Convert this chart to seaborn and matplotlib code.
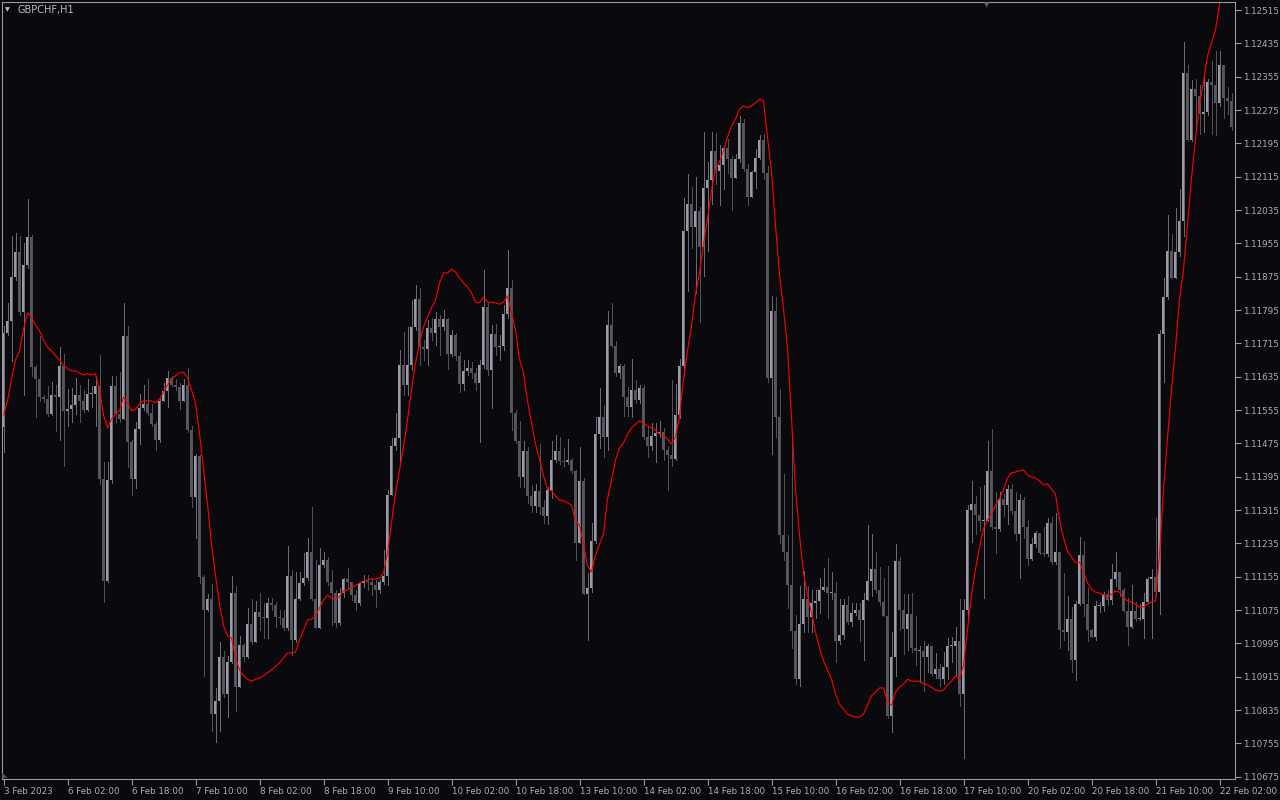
import numpy as np
import pandas as pd
import seaborn as sns
import matplotlib.pyplot as plt

# GBPCHF H1 candles (open = previous close)
first_open = 1.11514

closes = [
    1.11740, 1.11769, 1.11874, 1.11934, 1.11790, 1.11903, 1.11970, 1.11658, 1.11629, 1.11586,
    1.11581, 1.11545, 1.11591, 1.11586, 1.11661, 1.11553, 1.11557, 1.11567, 1.11591, 1.11577,
    1.11555, 1.11593, 1.11593, 1.11613, 1.11389, 1.11145, 1.11387, 1.11613, 1.11545, 1.11533,
    1.11733, 1.11478, 1.11389, 1.11509, 1.11560, 1.11569, 1.11548, 1.11521, 1.11483, 1.11577,
    1.11601, 1.11632, 1.11615, 1.11610, 1.11577, 1.11615, 1.11507, 1.11346, 1.11445, 1.11154,
    1.11075, 1.11101, 1.10825, 1.10857, 1.10962, 1.10873, 1.10950, 1.11116, 1.10890, 1.10991,
    1.10962, 1.11041, 1.10998, 1.11070, 1.11058, 1.11056, 1.11092, 1.11087, 1.11058, 1.11056,
    1.11032, 1.11157, 1.11003, 1.11101, 1.11140, 1.11152, 1.11214, 1.11101, 1.11032, 1.11183,
    1.11195, 1.11142, 1.11116, 1.11044, 1.11116, 1.11149, 1.11142, 1.11111, 1.11092, 1.11140,
    1.11145, 1.11142, 1.11135, 1.11123, 1.11142, 1.11157, 1.11351, 1.11469, 1.11488, 1.11663,
    1.11615, 1.11663, 1.11754, 1.11821, 1.11706, 1.11702, 1.11752, 1.11740, 1.11773, 1.11754,
    1.11773, 1.11689, 1.11735, 1.11685, 1.11617, 1.11649, 1.11656, 1.11644, 1.11620, 1.11663,
    1.11802, 1.11651, 1.11737, 1.11706, 1.11709, 1.11785, 1.11848, 1.11548, 1.11481, 1.11394,
    1.11457, 1.11349, 1.11325, 1.11361, 1.11322, 1.11301, 1.11363, 1.11435, 1.11457, 1.11433,
    1.11430, 1.11435, 1.11409, 1.11236, 1.11385, 1.11113, 1.11128, 1.11241, 1.11497, 1.11538,
    1.11490, 1.11759, 1.11709, 1.11644, 1.11661, 1.11586, 1.11562, 1.11603, 1.11579, 1.11608,
    1.11490, 1.11469, 1.11493, 1.11500, 1.11502, 1.11459, 1.11447, 1.11437, 1.11543, 1.11661,
    1.11985, 1.12049, 1.11994, 1.12033, 1.11946, 1.12088, 1.12107, 1.12177, 1.12129, 1.12143,
    1.12184, 1.12157, 1.12112, 1.12157, 1.12244, 1.12133, 1.12066, 1.12126, 1.12160, 1.12203,
    1.12124, 1.11632, 1.11793, 1.11538, 1.11255, 1.11214, 1.11135, 1.11025, 1.10909, 1.11041,
    1.11101, 1.11058, 1.11092, 1.11097, 1.11123, 1.11130, 1.11116, 1.11116, 1.11001, 1.11015,
    1.11087, 1.11046, 1.11068, 1.11075, 1.11051, 1.11099, 1.11145, 1.11173, 1.11123, 1.11094,
    1.11061, 1.10821, 1.10962, 1.11193, 1.11075, 1.11029, 1.11065, 1.10984, 1.10977, 1.10977,
    1.10962, 1.10989, 1.10921, 1.10933, 1.10909, 1.10938, 1.10989, 1.10989, 1.11001, 1.10873,
    1.11075, 1.11315, 1.11329, 1.11303, 1.11289, 1.11289, 1.11409, 1.11274, 1.11269, 1.11341,
    1.11327, 1.11365, 1.11313, 1.11257, 1.11339, 1.11274, 1.11197, 1.11233, 1.11260, 1.11212,
    1.11209, 1.11284, 1.11190, 1.11214, 1.11027, 1.11022, 1.11053, 1.10955, 1.11089, 1.11207,
    1.11089, 1.11027, 1.11010, 1.11085, 1.11085, 1.11113, 1.11099, 1.11149, 1.11166, 1.11123,
    1.11073, 1.11034, 1.11073, 1.11053, 1.11053, 1.11094, 1.11149, 1.11154, 1.11118, 1.11737,
    1.11826, 1.11937, 1.11872, 1.11934, 1.12009, 1.12364, 1.12203, 1.12325, 1.12309, 1.12265,
    1.12270, 1.12342, 1.12335, 1.12292, 1.12383, 1.12304, 1.12297, 1.12234,
]

highs = [
    1.11757, 1.11812, 1.11973, 1.11980, 1.11973, 1.11956, 1.12061, 1.11975, 1.11663, 1.11733,
    1.11591, 1.11613, 1.11622, 1.11615, 1.11706, 1.11689, 1.11605, 1.11608, 1.11632, 1.11615,
    1.11603, 1.11629, 1.11613, 1.11637, 1.11687, 1.11430, 1.11430, 1.11637, 1.11637, 1.11646,
    1.11812, 1.11757, 1.11483, 1.11526, 1.11593, 1.11615, 1.11629, 1.11569, 1.11526, 1.11581,
    1.11620, 1.11649, 1.11637, 1.11629, 1.11620, 1.11629, 1.11656, 1.11517, 1.11449, 1.11447,
    1.11159, 1.11113, 1.11137, 1.10888, 1.10998, 1.10977, 1.10965, 1.11157, 1.11133, 1.11013,
    1.10996, 1.11080, 1.11101, 1.11097, 1.11116, 1.11092, 1.11104, 1.11104, 1.11094, 1.11075,
    1.11075, 1.11229, 1.11171, 1.11166, 1.11166, 1.11212, 1.11248, 1.11322, 1.11195, 1.11224,
    1.11214, 1.11202, 1.11171, 1.11123, 1.11128, 1.11152, 1.11176, 1.11140, 1.11123, 1.11142,
    1.11159, 1.11159, 1.11152, 1.11147, 1.11147, 1.11219, 1.11363, 1.11488, 1.11548, 1.11699,
    1.11742, 1.11754, 1.11819, 1.11855, 1.11848, 1.11723, 1.11771, 1.11776, 1.11790, 1.11783,
    1.11795, 1.11776, 1.11747, 1.11740, 1.11694, 1.11675, 1.11675, 1.11670, 1.11656, 1.11675,
    1.11891, 1.11812, 1.11759, 1.11762, 1.11735, 1.11807, 1.11939, 1.11867, 1.11555, 1.11529,
    1.11481, 1.11466, 1.11375, 1.11378, 1.11473, 1.11339, 1.11370, 1.11481, 1.11495, 1.11490,
    1.11464, 1.11485, 1.11440, 1.11411, 1.11466, 1.11392, 1.11164, 1.11284, 1.11538, 1.11608,
    1.11567, 1.11793, 1.11812, 1.11721, 1.11666, 1.11666, 1.11610, 1.11677, 1.11627, 1.11615,
    1.11615, 1.11517, 1.11524, 1.11524, 1.11529, 1.11512, 1.11469, 1.11627, 1.11618, 1.11677,
    1.12064, 1.12121, 1.12090, 1.12114, 1.12042, 1.12222, 1.12150, 1.12222, 1.12220, 1.12191,
    1.12189, 1.12205, 1.12165, 1.12169, 1.12261, 1.12254, 1.12145, 1.12129, 1.12181, 1.12215,
    1.12217, 1.12141, 1.11829, 1.11826, 1.11605, 1.11401, 1.11255, 1.11493, 1.11063, 1.11133,
    1.11169, 1.11133, 1.11123, 1.11123, 1.11152, 1.11176, 1.11200, 1.11166, 1.11142, 1.11101,
    1.11101, 1.11109, 1.11092, 1.11092, 1.11092, 1.11116, 1.11279, 1.11257, 1.11214, 1.11178,
    1.11152, 1.11181, 1.11022, 1.11233, 1.11202, 1.11113, 1.11113, 1.11116, 1.11061, 1.10989,
    1.11001, 1.10993, 1.10974, 1.10972, 1.10945, 1.10974, 1.11008, 1.11010, 1.11034, 1.11101,
    1.11101, 1.11327, 1.11385, 1.11349, 1.11370, 1.11375, 1.11481, 1.11509, 1.11358, 1.11358,
    1.11353, 1.11375, 1.11378, 1.11358, 1.11353, 1.11346, 1.11291, 1.11248, 1.11265, 1.11260,
    1.11274, 1.11296, 1.11298, 1.11308, 1.11214, 1.11164, 1.11109, 1.11082, 1.11097, 1.11250,
    1.11241, 1.11128, 1.11029, 1.11097, 1.11094, 1.11118, 1.11123, 1.11185, 1.11214, 1.11166,
    1.11128, 1.11104, 1.11135, 1.11094, 1.11089, 1.11116, 1.11154, 1.11173, 1.11296, 1.11747,
    1.11872, 1.12023, 1.11977, 1.12040, 1.12085, 1.12438, 1.12383, 1.12347, 1.12349, 1.12335,
    1.12357, 1.12349, 1.12393, 1.12417, 1.12417, 1.12383, 1.12330, 1.12316,
]

lows = [
    1.11454, 1.11735, 1.11673, 1.11867, 1.11783, 1.11591, 1.11896, 1.11637, 1.11538, 1.11577,
    1.11574, 1.11541, 1.11543, 1.11505, 1.11483, 1.11421, 1.11517, 1.11526, 1.11545, 1.11526,
    1.11550, 1.11553, 1.11562, 1.11517, 1.11377, 1.11094, 1.11142, 1.11379, 1.11526, 1.11526,
    1.11533, 1.11418, 1.11351, 1.11368, 1.11473, 1.11555, 1.11543, 1.11517, 1.11459, 1.11478,
    1.11577, 1.11562, 1.11613, 1.11603, 1.11557, 1.11577, 1.11502, 1.11322, 1.11248, 1.11140,
    1.10917, 1.11073, 1.10785, 1.10758, 1.10785, 1.10866, 1.10818, 1.10948, 1.10833, 1.10893,
    1.10953, 1.10960, 1.10994, 1.11029, 1.11027, 1.11008, 1.11008, 1.11075, 1.11034, 1.11041,
    1.11027, 1.11027, 1.10967, 1.10998, 1.11099, 1.11135, 1.11147, 1.11099, 1.11032, 1.11032,
    1.11178, 1.11135, 1.11039, 1.11034, 1.11039, 1.11106, 1.11128, 1.11099, 1.11075, 1.11087,
    1.11130, 1.11123, 1.11111, 1.11082, 1.11116, 1.11137, 1.11135, 1.11351, 1.11459, 1.11430,
    1.11591, 1.11591, 1.11651, 1.11747, 1.11663, 1.11675, 1.11663, 1.11723, 1.11711, 1.11687,
    1.11747, 1.11653, 1.11685, 1.11675, 1.11598, 1.11603, 1.11639, 1.11632, 1.11603, 1.11478,
    1.11656, 1.11639, 1.11560, 1.11687, 1.11675, 1.11699, 1.11776, 1.11507, 1.11476, 1.11370,
    1.11370, 1.11332, 1.11310, 1.11310, 1.11305, 1.11284, 1.11281, 1.11344, 1.11430, 1.11425,
    1.11421, 1.11425, 1.11404, 1.11195, 1.11236, 1.11113, 1.11003, 1.11118, 1.11236, 1.11464,
    1.11442, 1.11459, 1.11706, 1.11637, 1.11632, 1.11541, 1.11541, 1.11538, 1.11572, 1.11572,
    1.11485, 1.11442, 1.11459, 1.11430, 1.11490, 1.11435, 1.11363, 1.11421, 1.11435, 1.11536,
    1.11637, 1.11841, 1.11944, 1.11836, 1.11766, 1.11877, 1.11937, 1.12049, 1.12097, 1.12047,
    1.12085, 1.12124, 1.12035, 1.12124, 1.12150, 1.12129, 1.12047, 1.12066, 1.12088, 1.12157,
    1.12109, 1.11622, 1.11449, 1.11490, 1.11236, 1.11195, 1.11080, 1.10984, 1.10897, 1.10893,
    1.11022, 1.11022, 1.11022, 1.11056, 1.11068, 1.11121, 1.11056, 1.11101, 1.10950, 1.10994,
    1.11005, 1.11041, 1.11036, 1.11063, 1.11001, 1.10955, 1.11099, 1.11109, 1.11116, 1.11087,
    1.11061, 1.10816, 1.10782, 1.10917, 1.11027, 1.10969, 1.10979, 1.10974, 1.10943, 1.10902,
    1.10881, 1.10926, 1.10919, 1.10912, 1.10893, 1.10897, 1.10909, 1.10950, 1.10917, 1.10845,
    1.10720, 1.11053, 1.11238, 1.11257, 1.11265, 1.11104, 1.11289, 1.11269, 1.11212, 1.11265,
    1.11301, 1.11281, 1.11305, 1.11243, 1.11152, 1.11248, 1.11183, 1.11195, 1.11226, 1.11209,
    1.11205, 1.11205, 1.11185, 1.11185, 1.10984, 1.11003, 1.10979, 1.10926, 1.10907, 1.11087,
    1.11061, 1.11001, 1.11010, 1.11003, 1.11070, 1.11073, 1.11087, 1.11089, 1.11133, 1.11109,
    1.11070, 1.10991, 1.11032, 1.11049, 1.11051, 1.11008, 1.11092, 1.11008, 1.11109, 1.11065,
    1.11622, 1.11821, 1.11872, 1.11872, 1.11925, 1.11973, 1.12201, 1.12201, 1.12225, 1.12218,
    1.12222, 1.12263, 1.12218, 1.12215, 1.12285, 1.12256, 1.12265, 1.12227,
]

# red indicator line
ma_line = [
    1.11543, 1.11577, 1.11629, 1.11675, 1.11697, 1.11749, 1.11788, 1.11778, 1.11759, 1.11745,
    1.11723, 1.11706, 1.11697, 1.11685, 1.11675, 1.11663, 1.11654, 1.11649, 1.11649, 1.11644,
    1.11639, 1.11642, 1.11639, 1.11642, 1.11603, 1.11543, 1.11512, 1.11533, 1.11545, 1.11553,
    1.11586, 1.11572, 1.11553, 1.11557, 1.11569, 1.11577, 1.11577, 1.11577, 1.11572, 1.11581,
    1.11598, 1.11615, 1.11629, 1.11637, 1.11644, 1.11646, 1.11632, 1.11603, 1.11572, 1.11500,
    1.11413, 1.11329, 1.11233, 1.11157, 1.11089, 1.11037, 1.11013, 1.11008, 1.10960, 1.10931,
    1.10917, 1.10909, 1.10904, 1.10909, 1.10911, 1.10917, 1.10924, 1.10931, 1.10940, 1.10948,
    1.10960, 1.10972, 1.10972, 1.10974, 1.11003, 1.11027, 1.11051, 1.11053, 1.11061, 1.11080,
    1.11099, 1.11111, 1.11104, 1.11101, 1.11106, 1.11121, 1.11123, 1.11130, 1.11133, 1.11140,
    1.11145, 1.11147, 1.11149, 1.11149, 1.11152, 1.11164, 1.11212, 1.11284, 1.11356, 1.11411,
    1.11466, 1.11531, 1.11603, 1.11668, 1.11716, 1.11754, 1.11778, 1.11800, 1.11819, 1.11860,
    1.11884, 1.11884, 1.11893, 1.11886, 1.11872, 1.11860, 1.11850, 1.11836, 1.11814, 1.11812,
    1.11826, 1.11814, 1.11814, 1.11812, 1.11809, 1.11814, 1.11829, 1.11788, 1.11747, 1.11677,
    1.11644, 1.11577, 1.11524, 1.11473, 1.11437, 1.11397, 1.11365, 1.11361, 1.11349, 1.11339,
    1.11337, 1.11332, 1.11327, 1.11289, 1.11279, 1.11233, 1.11181, 1.11166, 1.11207, 1.11233,
    1.11257, 1.11342, 1.11387, 1.11435, 1.11464, 1.11476, 1.11497, 1.11512, 1.11521, 1.11529,
    1.11524, 1.11517, 1.11512, 1.11507, 1.11497, 1.11495, 1.11485, 1.11473, 1.11490, 1.11541,
    1.11627, 1.11697, 1.11757, 1.11833, 1.11884, 1.11953, 1.12013, 1.12081, 1.12133, 1.12150,
    1.12177, 1.12210, 1.12237, 1.12253, 1.12277, 1.12285, 1.12280, 1.12285, 1.12292, 1.12301,
    1.12297, 1.12210, 1.12126, 1.11999, 1.11881, 1.11797, 1.11704, 1.11533, 1.11365, 1.11255,
    1.11164, 1.11111, 1.11068, 1.11022, 1.10984, 1.10953, 1.10931, 1.10909, 1.10873, 1.10849,
    1.10837, 1.10825, 1.10821, 1.10818, 1.10818, 1.10825, 1.10847, 1.10869, 1.10878, 1.10888,
    1.10888, 1.10852, 1.10847, 1.10878, 1.10890, 1.10897, 1.10909, 1.10904, 1.10904, 1.10904,
    1.10899, 1.10895, 1.10890, 1.10883, 1.10880, 1.10883, 1.10895, 1.10904, 1.10917, 1.10909,
    1.10943, 1.11027, 1.11111, 1.11173, 1.11226, 1.11269, 1.11291, 1.11305, 1.11327, 1.11342,
    1.11365, 1.11392, 1.11404, 1.11406, 1.11409, 1.11411, 1.11399, 1.11394, 1.11392, 1.11385,
    1.11375, 1.11378, 1.11365, 1.11353, 1.11291, 1.11248, 1.11217, 1.11202, 1.11188, 1.11190,
    1.11166, 1.11140, 1.11125, 1.11118, 1.11116, 1.11111, 1.11104, 1.11113, 1.11121, 1.11118,
    1.11104, 1.11097, 1.11094, 1.11089, 1.11082, 1.11082, 1.11089, 1.11094, 1.11097, 1.11207,
    1.11363, 1.11488, 1.11603, 1.11706, 1.11821, 1.11893, 1.11999, 1.12112, 1.12205, 1.12289,
    1.12342, 1.12405, 1.12436, 1.12467, 1.12529, 1.12587, 1.12635, 1.12683,
]

time_labels = ['3 Feb 2023', '6 Feb 02:00', '6 Feb 18:00', '7 Feb 10:00', '8 Feb 02:00',
               '8 Feb 18:00', '9 Feb 10:00', '10 Feb 02:00', '10 Feb 18:00', '13 Feb 10:00',
               '14 Feb 02:00', '14 Feb 18:00', '15 Feb 10:00', '16 Feb 02:00', '16 Feb 18:00',
               '17 Feb 10:00', '20 Feb 02:00', '20 Feb 18:00', '21 Feb 10:00', '22 Feb 02:00']
price_ticks = [1.10675 + 0.0008 * k for k in range(24)]

df = pd.DataFrame({'close': closes, 'high': highs, 'low': lows, 'ma': ma_line})
df['bar'] = np.arange(len(df))
df['open'] = [first_open] + closes[:-1]
df['high'] = df[['high', 'open', 'close']].max(axis=1)
df['low'] = df[['low', 'open', 'close']].min(axis=1)
df['up'] = df['close'] >= df['open']

bg = '#0a0a0e'
frame = '#9a9a9e'
txt = '#a8aeb8'
bull = '#9a9aa8'
bear = '#56565c'

sns.set_theme(style='dark')
plt.rcParams['font.family'] = ['DejaVu Sans']

fig = plt.figure(figsize=(12.8, 8), dpi=100, facecolor=bg)
ax = fig.add_axes([2 / 1280, 21 / 800, 1233 / 1280, 776.7 / 800])
ax.set_facecolor(bg)

# wicks (1 px)
ax.vlines(df['bar'], df['low'], df['high'],
          colors=np.where(df['up'], '#6a6a74', '#505056'), linewidth=0.72,
          antialiased=False)
# bodies (3 px)
body = (df['close'] - df['open']).abs().clip(lower=0.00002)
ax.bar(df['bar'], body, bottom=df[['open', 'close']].min(axis=1), width=0.7,
       color=np.where(df['up'], bull, bear), linewidth=0, antialiased=False)

sns.lineplot(data=df, x='bar', y='ma', color='#ff0000', linewidth=0.8, ax=ax)

ax.set_xlim(-0.375, 307.875)
ax.set_ylim(1.106694, 1.125335)
ax.grid(False)
ax.set_xlabel('')
ax.set_ylabel('')

for s in ax.spines.values():
    s.set_visible(True)
    s.set_color(frame)
    s.set_linewidth(0.8)

ax.yaxis.tick_right()
ax.set_yticks(price_ticks)
ax.set_yticklabels([f'{p:.5f}' for p in price_ticks])
ax.set_xticks(np.arange(0, 16 * len(time_labels), 16))
ax.set_xticklabels(time_labels)
plt.setp(ax.get_xticklabels(), ha='left')
ax.tick_params(axis='both', direction='out', length=4, width=0.8, color=frame,
               labelcolor=txt, labelsize=6.3, pad=2,
               bottom=True, left=False, right=True)

fig.text(7 / 1280, 1 - 10 / 800, '\u25bc', color='#b8bcc4', fontsize=4.5,
         ha='center', va='center')
fig.text(18 / 1280, 1 - 10 / 800, 'GBPCHF,H1', color='#b8bcc4', fontsize=7,
         ha='left', va='center')
fig.text(987 / 1280, 1 - 5 / 800, '\u25bc', color='#5a5a62', fontsize=5,
         ha='center', va='center')
fig.text(5 / 1280, 1 - 775 / 800, '\u25e3', color='#5a5a62', fontsize=5,
         ha='center', va='center')

fig.savefig('out.png', dpi=100, facecolor=bg)
